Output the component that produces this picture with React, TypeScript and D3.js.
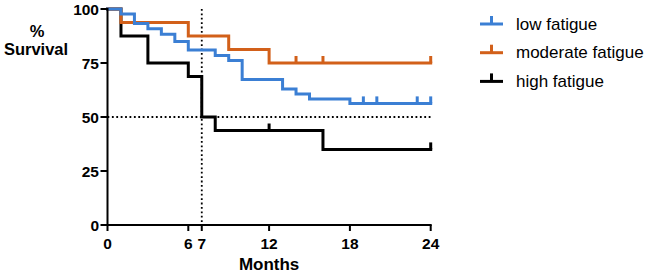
import React from "react";
import * as d3 from "d3";

const lowTimes = [0, 1, 2, 3, 4, 5, 6, 8, 9, 10, 13, 14, 15, 18];
const lowSurv = [100, 97.7, 93.3, 90.9, 88.3, 84.9, 81.0, 78.5, 76.2, 67.4, 63.0, 60.6, 58.3, 56.3];
const lowCensor = [19, 20, 23, 24];

const modTimes = [0, 1, 6, 9, 12];
const modSurv = [100, 93.75, 87.5, 81.25, 75];
const modCensor = [14, 16, 24];

const highTimes = [0, 1, 3, 6, 7, 8, 16];
const highSurv = [100, 87.5, 75, 68.75, 50, 43.75, 35];
const highCensor = [12, 24];

const xTicks = [0, 6, 7, 12, 18, 24];
const yTicks = [0, 25, 50, 75, 100];

const seriesNames = ["low fatigue", "moderate fatigue", "high fatigue"];
const seriesColors = ["#3B7FD4", "#D2601A", "#000000"];

const xMax = 24;

export default function App() {
  const x = d3.scaleLinear().domain([0, 24]).range([107.5, 430.7]);
  const y = d3.scaleLinear().domain([0, 100]).range([225, 9]);

  const series = [
    { times: lowTimes, surv: lowSurv, censor: lowCensor },
    { times: modTimes, surv: modSurv, censor: modCensor },
    { times: highTimes, surv: highSurv, censor: highCensor },
  ];

  const line = d3
    .line<[number, number]>()
    .x((d) => x(d[0]))
    .y((d) => y(d[1]))
    .curve(d3.curveStepAfter);

  const survAt = (times: number[], surv: number[], t: number) => {
    let v = surv[0];
    for (let i = 0; i < times.length; i++) if (times[i] <= t) v = surv[i];
    return v;
  };

  const font = "Arial, 'Liberation Sans', sans-serif";
  const drawOrder = [2, 1, 0];

  return (
    <svg
      width={650}
      height={275}
      style={{ position: "absolute", left: 0, top: 0, background: "#fff" }}
      fontFamily={font}
    >
      {/* reference dotted lines */}
      <line
        x1={x(0)}
        x2={x(24)}
        y1={y(50)}
        y2={y(50)}
        stroke="#000"
        strokeWidth={1.8}
        strokeDasharray="1.8,2.6"
      />
      <line
        x1={x(7)}
        x2={x(7)}
        y1={y(100)}
        y2={y(0)}
        stroke="#000"
        strokeWidth={1.8}
        strokeDasharray="1.8,2.6"
      />

      {/* curves */}
      {drawOrder.map((si) => {
        const s = series[si];
        const pts: [number, number][] = s.times.map((t, i) => [t, s.surv[i]]);
        pts.push([xMax, s.surv[s.surv.length - 1]]);
        return (
          <g key={si}>
            <path
              d={line(pts) || ""}
              fill="none"
              stroke={seriesColors[si]}
              strokeWidth={3}
              strokeLinejoin="miter"
              strokeLinecap="square"
            />
            {s.censor.map((c) => {
              const v = survAt(s.times, s.surv, c);
              return (
                <line
                  key={c}
                  x1={x(c)}
                  x2={x(c)}
                  y1={y(v)}
                  y2={y(v) - 7}
                  stroke={seriesColors[si]}
                  strokeWidth={3}
                />
              );
            })}
          </g>
        );
      })}

      {/* axes */}
      <line x1={x(0)} x2={x(0)} y1={y(100) - 1} y2={y(0) + 1} stroke="#000" strokeWidth={2} />
      <line x1={x(0) - 1} x2={x(24) + 1} y1={y(0)} y2={y(0)} stroke="#000" strokeWidth={2} />
      {yTicks.map((t) => (
        <g key={t}>
          <line x1={x(0) - 7} x2={x(0)} y1={y(t)} y2={y(t)} stroke="#000" strokeWidth={2} />
          <text
            x={x(0) - 8.5}
            y={y(t) + 5.5}
            textAnchor="end"
            fontSize={15.5}
            fontWeight="bold"
          >
            {t}
          </text>
        </g>
      ))}
      {xTicks.map((t) => (
        <g key={t}>
          <line x1={x(t)} x2={x(t)} y1={y(0)} y2={y(0) + 6} stroke="#000" strokeWidth={2} />
          <text x={x(t)} y={y(0) + 23.5} textAnchor="middle" fontSize={15.5} fontWeight="bold">
            {t}
          </text>
        </g>
      ))}

      {/* axis titles */}
      <text x={37} y={37} textAnchor="middle" fontSize={16.5} fontWeight="bold">
        %
      </text>
      <text x={36} y={55} textAnchor="middle" fontSize={16.5} fontWeight="bold">
        Survival
      </text>
      <text x={(x(0) + x(24)) / 2} y={270} textAnchor="middle" fontSize={17} fontWeight="bold">
        Months
      </text>

      {/* legend */}
      {seriesNames.map((name, i) => {
        const ly = 24 + i * 28.7;
        return (
          <g key={name}>
            <line x1={480} x2={503} y1={ly} y2={ly} stroke={seriesColors[i]} strokeWidth={3} />
            <line x1={491.5} x2={491.5} y1={ly} y2={ly - 8} stroke={seriesColors[i]} strokeWidth={3} />
            <text x={516} y={ly + 5.5} fontSize={17}>
              {name}
            </text>
          </g>
        );
      })}
    </svg>
  );
}
